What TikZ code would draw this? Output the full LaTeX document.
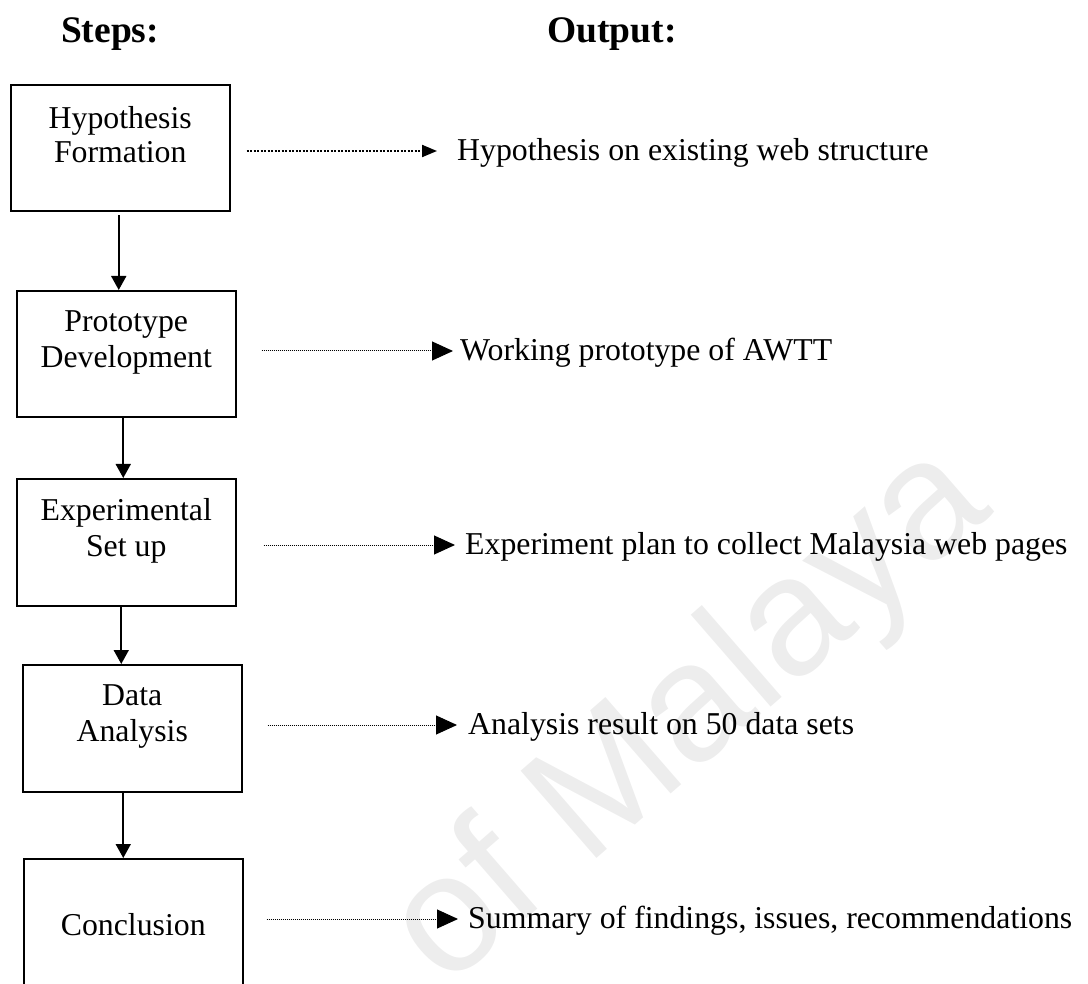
\documentclass[tikz,border=0pt]{standalone}
\usepackage{fontspec}
\setmainfont{Liberation Serif}
\newfontfamily\wmfont{Liberation Sans}
\usetikzlibrary{arrows.meta}

\begin{document}
\begin{tikzpicture}[x=1pt,y=-1pt,
  stepbox/.style={draw, line width=2pt, rectangle, minimum width=218.5pt,
    minimum height=126.5pt, anchor=north west, inner sep=0pt},
  steptext/.style={align=center, anchor=north, inner sep=0pt,
    font=\fontsize{31.8}{36}\selectfont},
  outtext/.style={anchor=west, inner sep=0pt, text height=23.8pt,
    text depth=4.8pt, font=\fontsize{31.8}{36}\selectfont},
  heading/.style={anchor=base, inner sep=0pt,
    font=\fontsize{37.5}{40}\selectfont\bfseries},
  flow/.style={line width=1.8pt, -{Triangle[length=14pt,width=15pt]}},
  outlink/.style={line width=1pt, dash pattern=on 1pt off 1pt,
    -{Triangle[length=21pt,width=19pt]}},
  outlinkbold/.style={line width=2pt, dash pattern=on 2pt off 1.5pt,
    -{Triangle[length=15pt,width=12pt]}},
]
\useasboundingbox (0,0) rectangle (1088,984);

% faint watermark behind the chart
\node[anchor=base west, rotate=41, inner sep=0pt, text=black!7,
  font=\wmfont\fontsize{168}{168}\selectfont] (wm) at (445,990) {of Malaya};

% column headings
\node[heading] (hsteps) at (110,43) {Steps:};
\node[heading] (hout) at (612,43) {Output:};

% step boxes
\node[stepbox] (b1) at (10,84) {};
\node[stepbox] (b2) at (16,290) {};
\node[stepbox] (b3) at (16,478) {};
\node[stepbox] (b4) at (22,664) {};
\node[stepbox] (b5) at (23,858) {};

% step labels
\node[steptext, font=\fontsize{31.8}{33.5}\selectfont] (t1)
  at ([yshift=-22.3pt]b1.north) {Hypothesis\\Formation};
\node[steptext] (t2) at ([yshift=-20pt]b2.north) {Prototype\\Development};
\node[steptext] (t3) at ([yshift=-20.3pt]b3.north) {Experimental\\Set up};
\node[steptext] (t4) at ([yshift=-20pt]b4.north) {Data\\Analysis};
\node[steptext] (t5) at ([yshift=-55.3pt]b5.north) {Conclusion};

% outputs
\node[outtext] (o1) at (457,151) {Hypothesis on existing web structure};
\node[outtext] (o2) at (460,351) {Working prototype of AWTT};
\node[outtext] (o3) at (465,545) {Experiment plan to collect Malaysia web pages};
\node[outtext] (o4) at (468,725) {Analysis result on 50 data sets};
\node[outtext] (o5) at (468,919) {Summary of findings, issues, recommendations};

% flow between steps
\draw[flow] ([xshift=-1.5pt,yshift=-3pt]b1.south) -- ([xshift=-1.5pt]b1.south |- b2.north);
\draw[flow] ([xshift=-3pt]b2.south) -- ([xshift=-3pt]b2.south |- b3.north);
\draw[flow] ([xshift=-5pt]b3.south) -- ([xshift=-5pt]b3.south |- b4.north);
\draw[flow] ([xshift=-9pt]b4.south) -- ([xshift=-9pt]b4.south |- b5.north);

% step to output links
\draw[outlinkbold] ([xshift=16pt]b1.east |- o1.west) -- ([xshift=-20pt]o1.west);
\draw[outlink] ([xshift=25pt]b2.east |- o2.west) -- ([xshift=-7pt]o2.west);
\draw[outlink] ([xshift=27pt]b3.east |- o3.west) -- ([xshift=-10pt]o3.west);
\draw[outlink] ([xshift=25pt]b4.east |- o4.west) -- ([xshift=-11pt]o4.west);
\draw[outlink] ([xshift=23pt]b5.east |- o5.west) -- ([xshift=-10pt]o5.west);
\end{tikzpicture}
\end{document}
